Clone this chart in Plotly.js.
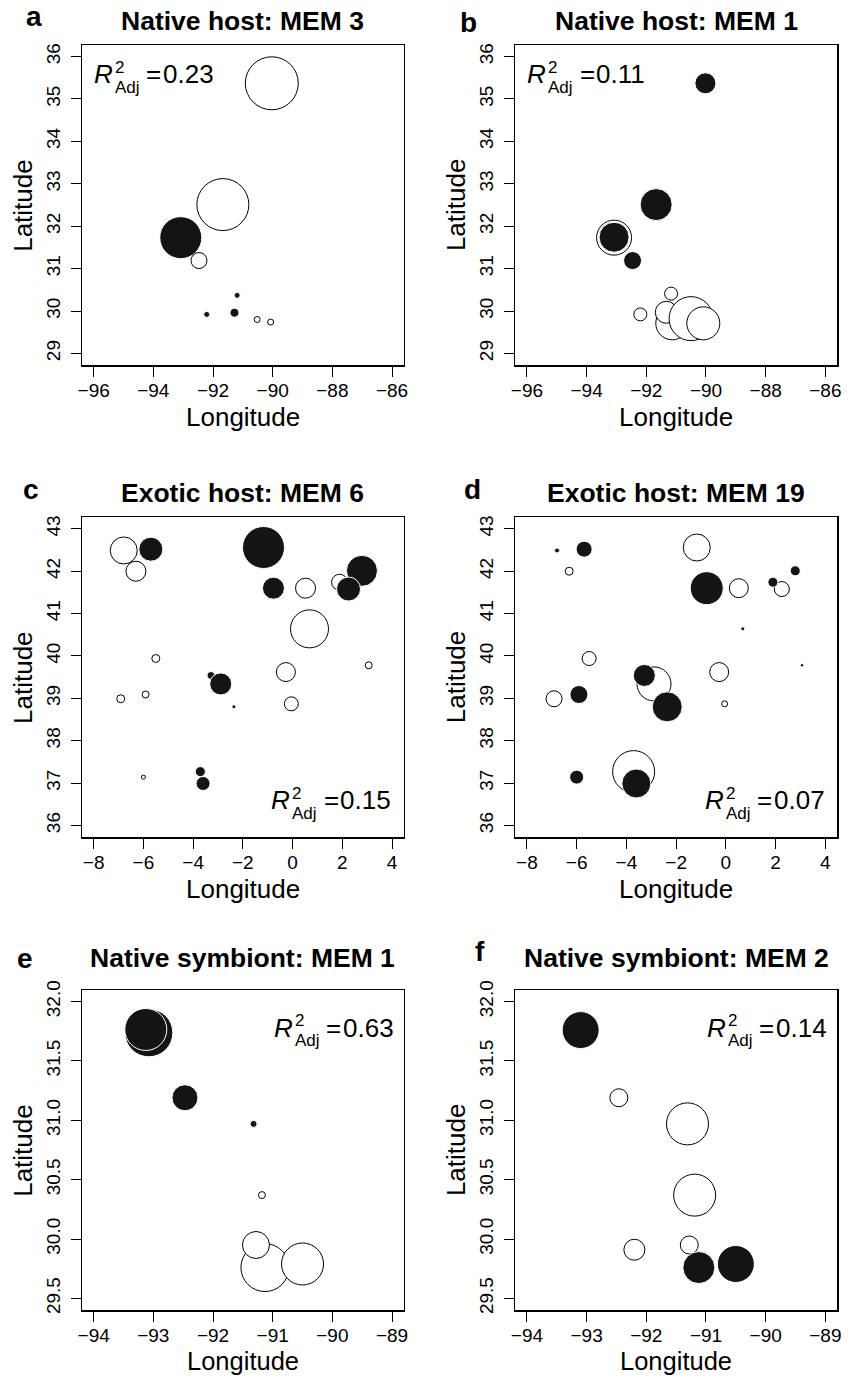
<!DOCTYPE html>
<html><head><meta charset="utf-8">
<script src="https://cdn.plot.ly/plotly-3.0.1.min.js"></script>
<style>html,body{margin:0;padding:0;background:#fff}#chart{width:853px;height:1377px}</style>
</head><body><div id="chart"></div>
<script>
// ---------- data (sign: + = filled black circle, - = open white circle) ----------
// Panel a: Native host, MEM 3
const aLon = [-90.03, -91.67, -93.12, -93.08, -92.47, -91.19, -92.21, -91.28, -90.52, -90.07];
const aLat = [35.37, 32.51, 31.76, 31.73, 31.19, 30.37, 29.92, 29.96, 29.80, 29.74];
const aMem = [-5.3, -5.2, -3.8, 4.2, -1.6, 0.6, 0.6, 0.9, -0.6, -0.6];
// Panel b: Native host, MEM 1
const bLon = [-90.02, -91.67, -93.08, -93.08, -92.46, -91.17, -92.20, -91.13, -91.33, -90.50, -90.09];
const bLat = [35.37, 32.51, 31.73, 31.74, 31.19, 30.41, 29.92, 29.71, 29.97, 29.82, 29.71];
const bMem = [2.1, 3.2, -3.5, 3.0, 1.8, -1.3, -1.3, -3.3, -2.2, -4.4, -3.3];
// Panel c: Exotic host, MEM 6
const cLon = [-6.79, -5.70, -6.30, -1.17, -0.77, 0.52, 1.89, 2.79, 2.25, 0.68, -5.50, 3.06, -3.28, -2.89, -0.27, -6.91, -5.91, -2.36, -0.05, -6.00, -3.71, -3.60];
const cLat = [42.49, 42.52, 42.00, 42.56, 41.60, 41.60, 41.74, 42.01, 41.58, 40.64, 39.94, 39.78, 39.54, 39.34, 39.62, 38.99, 39.09, 38.80, 38.87, 37.14, 37.27, 36.99];
const cMem = [-2.7, 2.4, -2.0, 4.2, 2.2, -2.0, -1.6, 3.1, 2.4, -3.8, -0.8, -0.7, 0.8, 2.2, -1.9, -0.8, -0.7, 0.4, -1.4, -0.4, 1.0, 1.4];
// Panel d: Exotic host, MEM 19
const dLon = [-6.79, -5.70, -6.30, -1.17, -0.77, 0.52, 2.79, 2.25, 1.89, 0.68, -5.50, 3.06, -2.89, -3.28, -0.27, -6.91, -5.91, -2.36, -0.05, -6.00, -3.71, -3.60];
const dLat = [42.49, 42.52, 42.00, 42.56, 41.60, 41.60, 42.01, 41.58, 41.74, 40.64, 39.94, 39.78, 39.34, 39.54, 39.62, 38.99, 39.09, 38.80, 38.87, 37.14, 37.27, 36.99];
const dMem = [0.5, 1.6, -0.8, -2.7, 3.3, -1.9, 1.0, -1.5, 1.0, 0.4, -1.4, 0.35, -3.4, 2.2, -1.9, -1.6, 1.8, 3.0, -0.6, 1.4, -4.2, 2.9];
// Panel e: Native symbiont, MEM 1
const eLon = [-93.075, -93.126, -92.47, -91.32, -91.18, -91.13, -91.28, -90.50];
const eLat = [31.737, 31.765, 31.19, 30.97, 30.37, 29.76, 29.95, 29.79];
const eMem = [4.8, 4.2, 2.6, 0.7, -0.7, -4.8, -2.7, -4.2];
// Panel f: Native symbiont, MEM 2
const fLon = [-93.075, -93.10, -92.46, -91.31, -91.19, -92.20, -91.28, -91.12, -90.50];
const fLat = [31.737, 31.76, 31.19, 30.97, 30.37, 29.91, 29.95, 29.76, 29.79];
const fMem = [1.5, 3.7, -1.8, -4.2, -4.2, -2.1, -1.8, 3.2, 3.7];

const panelLetters = ['a', 'b', 'c', 'd', 'e', 'f'];
const panelTitles = ['Native host: MEM 3', 'Native host: MEM 1', 'Exotic host: MEM 6', 'Exotic host: MEM 19', 'Native symbiont: MEM 1', 'Native symbiont: MEM 2'];
const r2Values = ['0.23', '0.11', '0.15', '0.07', '0.63', '0.14'];
const xAxisTitle = 'Longitude';
const yAxisTitle = 'Latitude';

// tick labels
const lonTicksNativeHost = [-96, -94, -92, -90, -88, -86];
const latTicksNativeHost = [29, 30, 31, 32, 33, 34, 35, 36];
const lonTicksExotic = [-8, -6, -4, -2, 0, 2, 4];
const latTicksExotic = [36, 37, 38, 39, 40, 41, 42, 43];
const lonTicksSymbiont = [-94, -93, -92, -91, -90, -89];
const latTicksSymbiont = [29.5, 30.0, 30.5, 31.0, 31.5, 32.0];

// ---------- layout helpers ----------
const W = 853, H = 1377;
const FONT = 'Liberation Sans, Arial, Helvetica, sans-serif';
const BLACK = '#141414';
const SIZE_PER_UNIT = 10;
const SHIFT = -2; // small global vertical shift so the bottom axis title fits on the page

const colX = [[81.7, 404], [515, 837.3]];
const rowY = [[46.7, 367.3], [519, 839.3], [991.7, 1312.3]].map(r => [r[0] + SHIFT, r[1] + SHIFT]);

function circles(lon, lat, mem, n) {
  const sfx = n === 1 ? '' : String(n);
  return {
    type: 'scatter', mode: 'markers', x: lon, y: lat,
    xaxis: 'x' + sfx, yaxis: 'y' + sfx,
    marker: {
      size: mem.map(v => Math.abs(v) * SIZE_PER_UNIT),
      color: mem.map(v => v > 0 ? BLACK : '#ffffff'),
      line: { color: mem.map(v => v > 0 ? '#ffffff' : '#000000'), width: 1 },
      opacity: 1
    },
    hoverinfo: 'skip', showlegend: false
  };
}

function pad(lo, hi) { const d = (hi - lo) * 0.04; return [lo - d, hi + d]; }

const layout = {
  width: W, height: H, margin: { l: 0, r: 0, t: 0, b: 0 },
  paper_bgcolor: '#fff', plot_bgcolor: '#fff', showlegend: false,
  font: { family: FONT, color: '#000' },
  annotations: []
};

const specs = [
  { lonT: lonTicksNativeHost, latT: latTicksNativeHost, fmt: 'd' },
  { lonT: lonTicksNativeHost, latT: latTicksNativeHost, fmt: 'd' },
  { lonT: lonTicksExotic, latT: latTicksExotic, fmt: 'd' },
  { lonT: lonTicksExotic, latT: latTicksExotic, fmt: 'd' },
  { lonT: lonTicksSymbiont, latT: latTicksSymbiont, fmt: '.1f' },
  { lonT: lonTicksSymbiont, latT: latTicksSymbiont, fmt: '.1f' }
];

// text placed by its baseline (pixels from the top-left of the page)
function txt(text, xpx, basepx, size, xanchor) {
  return {
    xref: 'paper', yref: 'paper', x: xpx / W,
    y: 1 - (basepx + 0.212 * size + 1) / H,
    xanchor: xanchor || 'left', yanchor: 'bottom',
    text: text, showarrow: false,
    font: { family: FONT, size: size, color: '#000' }
  };
}
// stacked superscript / subscript pair in one text ("2" over "Adj"), lower baseline at basepx
function stacked(sup, sub, xpx, basepx) {
  const fs = 17;
  const s = t => '<span style="font-size:' + fs + 'px">' + t + '</span>';
  return {
    xref: 'paper', yref: 'paper', x: xpx / W,
    y: 1 - (basepx + 0.2 * fs + 1.5) / H,
    xanchor: 'left', yanchor: 'bottom', align: 'left',
    text: s(sup) + '<br>' + s(sub), showarrow: false,
    font: { family: FONT, size: 15, color: '#000' }
  };
}
// text whose box top sits at toppx
function txtTop(text, xpx, toppx, size, xanchor) {
  return {
    xref: 'paper', yref: 'paper', x: xpx / W, y: 1 - (toppx - 1.5) / H,
    xanchor: xanchor || 'center', yanchor: 'top',
    text: text, showarrow: false,
    font: { family: FONT, size: size, color: '#000' }
  };
}
// vertical text (reads bottom to top), baseline at x = basepx, centred on ymid
function vtxt(text, basepx, ymid, size) {
  return {
    xref: 'paper', yref: 'paper',
    x: (basepx + 0.212 * size + 1) / W, y: 1 - ymid / H,
    xanchor: 'right', yanchor: 'middle', textangle: -90,
    text: text, showarrow: false,
    font: { family: FONT, size: size, color: '#000' }
  };
}

const letterPos = [[26, 29.3], [460, 35], [22.7, 501.7], [464, 501.7], [16.7, 970.7], [475, 964]];
const titleBase = [33.3, 33.3, 505, 505, 970, 970];
const r2Pos = [[94.3, 86.7], [527.7, 86.7], [271.7, 812.7], [705, 812.7], [274, 1040], [707.3, 1040]];

const baseAnnotations = [];
specs.forEach((s, i) => {
  const n = i + 1, sfx = n === 1 ? '' : String(n);
  const col = colX[i % 2], row = rowY[Math.floor(i / 2)];
  const axCommon = {
    showgrid: false, zeroline: false, showline: true, mirror: true,
    linecolor: '#000', linewidth: 1.2,
    ticks: 'outside', ticklen: 10, tickwidth: 1, tickcolor: '#000',
    tickfont: { family: FONT, size: 19, color: '#000' },
    fixedrange: true, automargin: false
  };
  layout['xaxis' + sfx] = Object.assign({}, axCommon, {
    domain: [col[0] / W, col[1] / W],
    range: pad(s.lonT[0], s.lonT[s.lonT.length - 1]),
    tickmode: 'array', tickvals: s.lonT, tickformat: 'd',
    ticklabelstandoff: -2,
    anchor: 'y' + sfx
  });
  layout['yaxis' + sfx] = Object.assign({}, axCommon, {
    domain: [1 - row[1] / H, 1 - row[0] / H],
    range: pad(s.latT[0], s.latT[s.latT.length - 1]),
    tickmode: 'array', tickvals: s.latT, tickformat: s.fmt, tickangle: -90,
    ticklabelstandoff: 3,
    anchor: 'x' + sfx
  });

  baseAnnotations.push(vtxt(yAxisTitle, col[0] - 48.4, (row[0] + row[1]) / 2, 26));

  // panel letter and title
  baseAnnotations.push(txt('<b>' + panelLetters[i] + '</b>', letterPos[i][0] - 2, letterPos[i][1] + SHIFT, 28, 'left'));
  baseAnnotations.push(txt('<b>' + panelTitles[i] + '</b>', (col[0] + col[1]) / 2, titleBase[i] + SHIFT, 26.5, 'center'));

  // R^2_Adj label
  const rx = r2Pos[i][0], rb = r2Pos[i][1] + SHIFT;
  baseAnnotations.push(txt('<i>R</i>', rx - 2.5, rb, 26, 'left'));
  baseAnnotations.push(stacked('2', 'Adj', rx + 20.7 - 2, rb + 9.2));
  baseAnnotations.push(txt('=', rx + 52.4 - 2.5, rb, 26, 'left'));
  baseAnnotations.push(txt(r2Values[i], rx + 69 - 2.5, rb, 26, 'left'));
});

// x-axis titles: default placement, refined after the tick labels are measured
function xTitles(tickBottoms) {
  return specs.map((s, i) => {
    const col = colX[i % 2], row = rowY[Math.floor(i / 2)];
    const tb = tickBottoms ? tickBottoms[i] : row[1] + 36;
    const top = Math.max(tb + 0.5, row[1] + 36);
    let size = 26;
    while (size > 18 && top + 1.16 * size > H - 0.5) size -= 0.5;
    return txtTop(xAxisTitle, (col[0] + col[1]) / 2, top, size, 'center');
  });
}
layout.annotations = baseAnnotations.concat(xTitles(null));

const data = [
  circles(aLon, aLat, aMem, 1),
  circles(bLon, bLat, bMem, 2),
  circles(cLon, cLat, cMem, 3),
  circles(dLon, dLat, dMem, 4),
  circles(eLon, eLat, eMem, 5),
  circles(fLon, fLat, fMem, 6)
];

Plotly.newPlot('chart', data, layout, { staticPlot: true, displayModeBar: false }).then(gd => {
  const host = gd.getBoundingClientRect();
  const bottoms = specs.map((s, i) => {
    const id = i === 0 ? 'x' : 'x' + (i + 1);
    let b = -Infinity;
    gd.querySelectorAll('.' + id + 'tick text').forEach(t => {
      const r = t.getBoundingClientRect();
      if (r.height > 0) b = Math.max(b, r.bottom - host.top);
    });
    return isFinite(b) ? b : null;
  });
  const tb = bottoms.map((b, i) => b === null ? rowY[Math.floor(i / 2)][1] + 36 : b);
  return Plotly.relayout(gd, { annotations: baseAnnotations.concat(xTitles(tb)) });
});
</script></body></html>
